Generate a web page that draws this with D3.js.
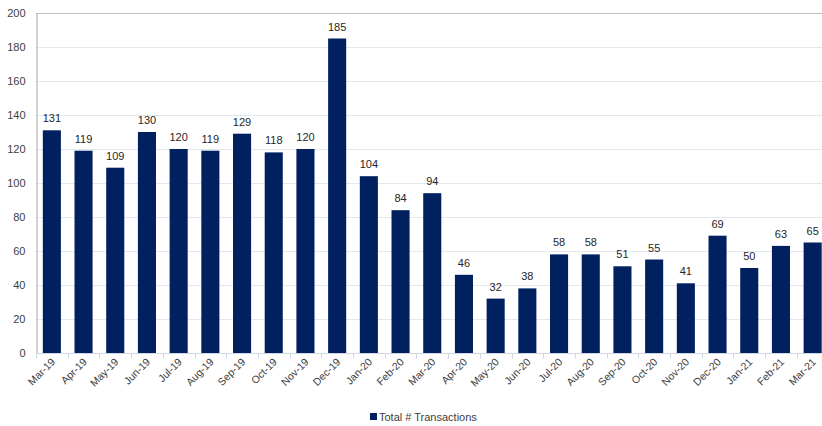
<!DOCTYPE html>
<html><head><meta charset="utf-8">
<script src="https://cdn.jsdelivr.net/npm/d3@7"></script>
<style>body{margin:0;background:#fff;overflow:hidden}svg{display:block}text{font-family:"Liberation Sans",Arial,sans-serif}</style>
</head><body><svg id="c" width="822" height="426"></svg>
<script>
const categories = ["Mar-19","Apr-19","May-19","Jun-19","Jul-19","Aug-19","Sep-19","Oct-19","Nov-19","Dec-19","Jan-20","Feb-20","Mar-20","Apr-20","May-20","Jun-20","Jul-20","Aug-20","Sep-20","Oct-20","Nov-20","Dec-20","Jan-21","Feb-21","Mar-21"];
const values = [131,119,109,130,120,119,129,118,120,185,104,84,94,46,32,38,58,58,51,55,41,69,50,63,65];
const yTicks = [0,20,40,60,80,100,120,140,160,180,200];
const seriesName = "Total # Transactions";

const svg = d3.select("#c");
const L = 36, R = 828.5, T = 13, B = 353;
const x = d3.scaleBand().domain(categories).range([L, R]).paddingInner(0.43).paddingOuter(0.215);
const y = d3.scaleLinear().domain([0, 200]).range([B, T]);

// gridlines
svg.append("g").selectAll("line").data(yTicks.filter(d => d > 0 && d < 200)).join("line")
  .attr("x1", L).attr("x2", R).attr("y1", d => y(d) + 0.5).attr("y2", d => y(d) + 0.5)
  .attr("stroke", "#e3e7ee").attr("stroke-width", 1);
// top border
svg.append("line").attr("x1", L).attr("x2", R).attr("y1", T + 0.5).attr("y2", T + 0.5).attr("stroke", "#bfbfbf");

// y axis
const ya = svg.append("g").attr("transform", `translate(${L + 0.5},0)`)
  .call(d3.axisLeft(y).tickValues(yTicks).tickSize(0).tickPadding(11));
ya.select(".domain").attr("stroke", "#a6a6a6");
ya.selectAll("text").attr("font-size", 11).attr("fill", "#404040");

// bars
svg.append("g").selectAll("rect").data(values).join("rect")
  .attr("x", (d, i) => x(categories[i]))
  .attr("width", x.bandwidth())
  .attr("y", d => y(d))
  .attr("height", d => B - y(d))
  .attr("fill", "#002060");

// x axis
const step = x.step();
const xa = svg.append("g").attr("transform", `translate(0,${B + 0.5})`);
xa.append("line").attr("x1", L).attr("x2", R).attr("stroke", "#d0d7e5");
xa.selectAll("line.tk").data(d3.range(categories.length + 1)).join("line").attr("class", "tk")
  .attr("x1", i => Math.round(L + i * step) + 0.5).attr("x2", i => Math.round(L + i * step) + 0.5)
  .attr("y1", 0).attr("y2", 5).attr("stroke", "#d0d7e5");
xa.selectAll("text").data(categories).join("text")
  .attr("transform", d => `translate(${x(d) + x.bandwidth() / 2 + 4},${9}) rotate(-45)`)
  .attr("text-anchor", "end").attr("font-size", 10.5).attr("fill", "#404040").text(d => d);

// data labels
svg.append("g").selectAll("text").data(values).join("text")
  .attr("x", (d, i) => x(categories[i]) + x.bandwidth() / 2)
  .attr("y", d => y(d) - 8)
  .attr("text-anchor", "middle").attr("font-size", 11).attr("fill", "#262626").text(d => d);

// legend
const lg = svg.append("g");
lg.append("rect").attr("x", 370).attr("y", 413).attr("width", 7).attr("height", 7).attr("fill", "#002060");
lg.append("text").attr("x", 379).attr("y", 421).attr("font-size", 11).attr("fill", "#404040").text(seriesName);
</script></body></html>
